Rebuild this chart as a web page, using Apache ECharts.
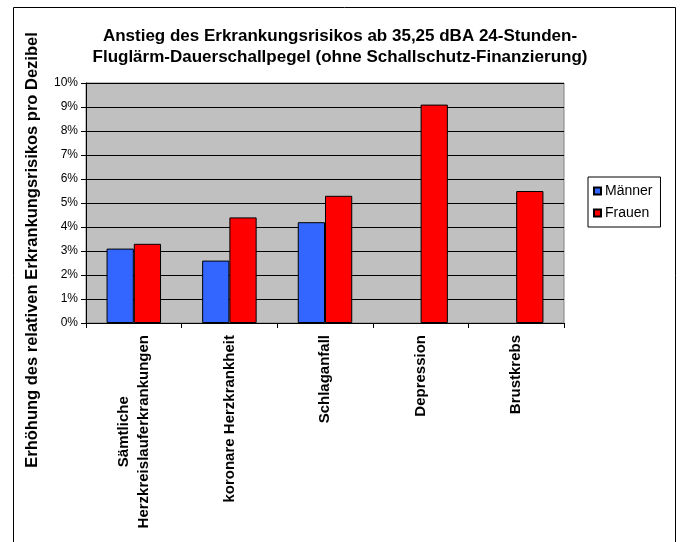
<!DOCTYPE html>
<html>
<head>
<meta charset="utf-8">
<script src="https://cdn.jsdelivr.net/npm/echarts@6/dist/echarts.min.js"></script>
<style>
  html, body { margin: 0; padding: 0; background: #fff; }
  #chart { width: 680px; height: 542px; }
</style>
</head>
<body>
<div id="chart"></div>
<script>
// Kategorien und Werte (Prozent pro Dezibel)
const categories = ['Sämtliche\nHerzkreislauferkrankungen', 'koronare Herzkrankheit', 'Schlaganfall', 'Depression', 'Brustkrebs'];
const maenner = [3.1, 2.6, 4.2, '-', '-'];
const frauen = [3.3, 4.4, 5.3, 9.1, 5.5];
const yTicks = [0, 10, 1]; // min, max, interval

const font = 'Liberation Sans, Arial, sans-serif';

let myChart = echarts.init(document.getElementById('chart'));

let option = {
  animation: false,
  backgroundColor: '#fff',
  title: {
    text: 'Anstieg des Erkrankungsrisikos ab 35,25 dBA 24-Stunden-\nFluglärm-Dauerschallpegel (ohne Schallschutz-Finanzierung)',
    left: 'center',
    top: 21,
    padding: [5, 5, 5, 5],
    textStyle: {
      fontFamily: font,
      fontSize: 17,
      fontWeight: 'bold',
      color: '#000',
      lineHeight: 21,
      align: 'center'
    }
  },
  graphic: [
    {
      type: 'rect',
      shape: { x: 13.5, y: 7.5, width: 662, height: 560 },
      style: { fill: 'none', stroke: '#000', lineWidth: 1 },
      silent: true
    },
    {
      type: 'text',
      x: 32,
      y: 250,
      rotation: Math.PI / 2,
      style: {
        text: 'Erhöhung des relativen Erkrankungsrisikos pro Dezibel',
        font: 'bold 16.5px ' + font,
        fill: '#000',
        align: 'center',
        verticalAlign: 'middle'
      }
    }
  ],
  legend: {
    orient: 'vertical',
    left: 588,
    top: 177,
    padding: [7, 8, 7, 5],
    itemWidth: 7,
    itemHeight: 7,
    itemGap: 8,
    borderColor: '#000',
    borderWidth: 1,
    icon: 'rect',
    textStyle: { fontFamily: font, fontSize: 14, color: '#000', padding: [0, 0, 0, -1] },
    data: ['Männer', 'Frauen']
  },
  grid: {
    left: 86,
    right: 116,
    top: 83,
    bottom: 219,
    show: true,
    backgroundColor: '#C0C0C0',
    borderColor: '#808080',
    borderWidth: 1
  },
  xAxis: {
    type: 'category',
    data: categories,
    axisLine: { lineStyle: { color: '#000', width: 1 } },
    axisTick: { show: true, length: 5, lineStyle: { color: '#000' } },
    axisLabel: {
      rotate: 90,
      margin: 12,
      interval: 0,
      color: '#000',
      fontFamily: font,
      fontSize: 15,
      fontWeight: 'bold',
      formatter: function (value) {
        return value.split('\n').map(s => '{c|' + s + '}').join('\n');
      },
      rich: {
        c: { align: 'center', fontFamily: font, fontSize: 15, fontWeight: 'bold', color: '#000', lineHeight: 20 }
      }
    }
  },
  yAxis: {
    type: 'value',
    min: yTicks[0],
    max: yTicks[1],
    interval: yTicks[2],
    axisLine: { show: true, lineStyle: { color: '#000', width: 1 } },
    axisTick: { show: true, length: 5, lineStyle: { color: '#000' } },
    axisLabel: {
      margin: 8,
      color: '#000',
      fontFamily: font,
      fontSize: 12,
      formatter: function (v) { return v + '%'; }
    },
    splitLine: { show: true, lineStyle: { color: '#000', width: 1 } }
  },
  series: [
    {
      name: 'Männer',
      type: 'bar',
      data: maenner,
      barGap: '0%',
      barCategoryGap: '43%',
      itemStyle: { color: '#3366FF', borderColor: '#000', borderWidth: 1 }
    },
    {
      name: 'Frauen',
      type: 'bar',
      data: frauen,
      barGap: '0%',
      barCategoryGap: '43%',
      itemStyle: { color: '#FF0000', borderColor: '#000', borderWidth: 1 }
    }
  ]
};

option && myChart.setOption(option);
</script>
</body>
</html>
